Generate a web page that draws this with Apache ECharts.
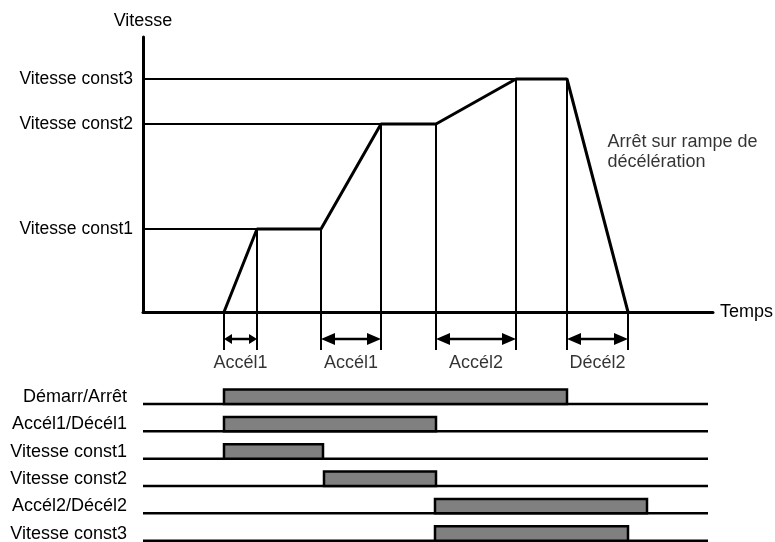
<!DOCTYPE html>
<html>
<head>
<meta charset="utf-8">
<script src="https://cdn.jsdelivr.net/npm/echarts@6/dist/echarts.min.js"></script>
<style>
  html, body { margin: 0; padding: 0; background: #fff; }
  #chart { width: 775px; height: 542px; }
</style>
</head>
<body>
<div id="chart"></div>
<script>
// speed profile (time, speed)
var profileT = [81, 114, 178, 238, 293, 373, 424, 485]
var profileV = [0, 83, 83, 188, 188, 233, 233, 0]

// constant speed levels and where they are first reached
var speedLevels = [83, 188, 233]
var speedNames = ['Vitesse const1', 'Vitesse const2', 'Vitesse const3']
var levelReached = [114, 238, 373]

// ramp phases under the time axis
var phaseStart = [81, 178, 293, 424]
var phaseEnd = [114, 238, 373, 485]
var phaseNames = ['Accél1', 'Accél1', 'Accél2', 'Décél2']

// timing signals
var signalNames = ['Démarr/Arrêt', 'Accél1/Décél1', 'Vitesse const1', 'Vitesse const2', 'Accél2/Décél2', 'Vitesse const3']
var signalOn = [81, 81, 81, 181, 292, 292]
var signalOff = [424, 293, 180, 293, 504, 485]

var note = 'Arrêt sur rampe de\ndécélération'
var notePos = [464, 160]

var timeMax = 570
var speedMax = 275
var signalLineEnd = 565

var guideBottom = -38
var arrowLevel = -27
var phaseLabelLevel = -51

var chart = echarts.init(document.getElementById('chart'))

var black = '#000'
var series = []

// horizontal lines from the speed axis to each level
speedLevels.forEach(function(v, i) {
  series.push({
    type: 'line',
    xAxisIndex: 0,
    yAxisIndex: 0,
    data: [[0, v], [levelReached[i], v]],
    symbol: 'none',
    clip: false,
    silent: true,
    lineStyle: { color: black, width: 2 }
  })
})

// vertical guides from each corner of the profile down below the axis
profileT.forEach(function(t, i) {
  series.push({
    type: 'line',
    xAxisIndex: 0,
    yAxisIndex: 0,
    data: [[t, profileV[i]], [t, guideBottom]],
    symbol: 'none',
    clip: false,
    silent: true,
    lineStyle: { color: black, width: 2 }
  })
})

// the speed profile
series.push({
  type: 'line',
  xAxisIndex: 0,
  yAxisIndex: 0,
  data: profileT.map(function(t, i) { return [t, profileV[i]] }),
  symbol: 'none',
  clip: false,
  silent: true,
  z: 5,
  lineStyle: { color: black, width: 3 }
})

// double arrows for the ramp durations
series.push({
  type: 'custom',
  xAxisIndex: 0,
  yAxisIndex: 0,
  clip: false,
  silent: true,
  data: phaseStart.map(function(s, i) { return [s, phaseEnd[i], arrowLevel] }),
  renderItem: function(params, api) {
    var p0 = api.coord([api.value(0), api.value(2)])
    var p1 = api.coord([api.value(1), api.value(2)])
    var span = p1[0] - p0[0]
    var len = span < 40 ? 8 : 14
    var half = span < 40 ? 5 : 6
    var y = p0[1]
    return {
      type: 'group',
      children: [{
        type: 'line',
        shape: { x1: p0[0] + len - 1, y1: y, x2: p1[0] - len + 1, y2: y },
        style: { stroke: black, lineWidth: 2.5 }
      }, {
        type: 'polygon',
        shape: { points: [[p0[0], y], [p0[0] + len, y - half], [p0[0] + len, y + half]] },
        style: { fill: black }
      }, {
        type: 'polygon',
        shape: { points: [[p1[0], y], [p1[0] - len, y - half], [p1[0] - len, y + half]] },
        style: { fill: black }
      }]
    }
  }
})

// phase names
series.push({
  type: 'scatter',
  xAxisIndex: 0,
  yAxisIndex: 0,
  data: phaseStart.map(function(s, i) { return [(s + phaseEnd[i]) / 2, phaseLabelLevel] }),
  symbolSize: 1,
  clip: false,
  silent: true,
  itemStyle: { color: 'rgba(0,0,0,0)' },
  label: {
    show: true,
    position: 'inside',
    color: black,
    fontSize: 18,
    formatter: function(p) { return phaseNames[p.dataIndex] }
  }
})

// note next to the deceleration ramp
series.push({
  type: 'scatter',
  xAxisIndex: 0,
  yAxisIndex: 0,
  data: [notePos],
  symbolSize: 1,
  clip: false,
  silent: true,
  itemStyle: { color: 'rgba(0,0,0,0)' },
  label: {
    show: true,
    position: 'right',
    distance: 0,
    align: 'left',
    color: black,
    fontSize: 18,
    lineHeight: 20,
    formatter: note
  }
})

// signal baselines
signalNames.forEach(function(name, i) {
  series.push({
    type: 'line',
    xAxisIndex: 1,
    yAxisIndex: 1,
    data: [[0, i + 1], [signalLineEnd, i + 1]],
    symbol: 'none',
    silent: true,
    clip: false,
    lineStyle: { color: black, width: 2.5 }
  })
})

// signal high periods
series.push({
  type: 'custom',
  xAxisIndex: 1,
  yAxisIndex: 1,
  clip: false,
  silent: true,
  z: 4,
  data: signalNames.map(function(n, i) { return [signalOn[i], signalOff[i], i + 1] }),
  renderItem: function(params, api) {
    var p0 = api.coord([api.value(0), api.value(2)])
    var p1 = api.coord([api.value(1), api.value(2)])
    var h = api.size([0, 0.53])[1]
    return {
      type: 'rect',
      shape: { x: p0[0], y: p0[1] - h, width: p1[0] - p0[0], height: h },
      style: { fill: '#808080', stroke: black, lineWidth: 2.5 }
    }
  }
})

chart.setOption({
  animation: false,
  backgroundColor: '#fff',
  textStyle: { fontFamily: 'Liberation Sans, Arial, sans-serif', color: black },
  grid: [{
    left: 143,
    right: 62,
    top: 37,
    height: 275,
    outerBoundsMode: 'none'
  }, {
    left: 143,
    right: 62,
    top: 376.7,
    height: 164,
    outerBoundsMode: 'none'
  }],
  xAxis: [{
    type: 'value',
    gridIndex: 0,
    min: 0,
    max: timeMax,
    name: 'Temps',
    nameLocation: 'end',
    nameGap: 7,
    nameTextStyle: { fontSize: 18, color: black },
    axisLine: { show: true, onZero: false, lineStyle: { color: black, width: 3 } },
    axisTick: { show: false },
    axisLabel: { show: false },
    splitLine: { show: false }
  }, {
    type: 'value',
    gridIndex: 1,
    min: 0,
    max: timeMax,
    show: false
  }],
  yAxis: [{
    type: 'value',
    gridIndex: 0,
    min: 0,
    max: speedMax,
    name: 'Vitesse',
    nameLocation: 'end',
    nameGap: 7,
    nameTextStyle: { fontSize: 18, color: black },
    axisLine: { show: true, onZero: false, lineStyle: { color: black, width: 3 } },
    axisTick: { show: false },
    splitLine: { show: false },
    axisLabel: {
      customValues: speedLevels,
      margin: 10,
      fontSize: 17.5,
      color: black,
      formatter: function(v) { return speedNames[speedLevels.indexOf(v)] }
    }
  }, {
    type: 'value',
    gridIndex: 1,
    min: 0,
    max: 6,
    inverse: true,
    axisLine: { show: false },
    axisTick: { show: false },
    splitLine: { show: false },
    axisLabel: {
      customValues: [1, 2, 3, 4, 5, 6],
      margin: 16,
      fontSize: 18,
      lineHeight: 14,
      color: black,
      verticalAlign: 'bottom',
      formatter: function(v) { return signalNames[v - 1] }
    }
  }],
  series: series
})
</script>
</body>
</html>
